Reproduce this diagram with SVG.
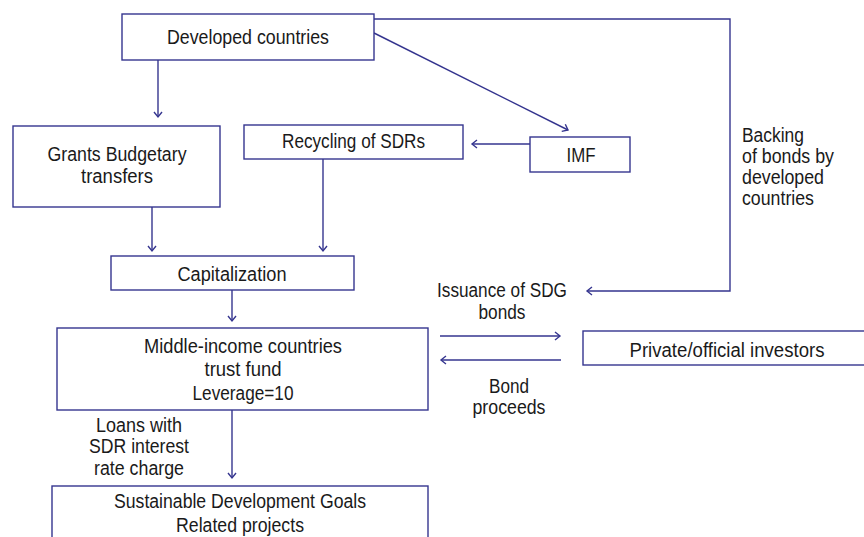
<svg xmlns="http://www.w3.org/2000/svg" width="864" height="537" viewBox="0 0 864 537">
<style>
.box{fill:#fff;stroke:#35358f;stroke-width:1.4}
.ln{fill:none;stroke:#35358f;stroke-width:1.4}
text{font-family:"Liberation Sans",Arial,sans-serif;font-size:20px;fill:#1a1a1a}
.c{text-anchor:middle}
</style>
<defs>
<marker id="ah" markerUnits="userSpaceOnUse" markerWidth="12" markerHeight="12" viewBox="-6 -6 12 12" refX="0" refY="0" orient="auto">
<path d="M-5,-4 L0,0 L-5,4" fill="none" stroke="#35358f" stroke-width="1.4"/>
</marker>
</defs>
<rect width="864" height="537" fill="#fff"/>
<g id="connectors">
<path class="ln" d="M374,19 H730 V291 H587" marker-end="url(#ah)"/>
<path class="ln" d="M374,33 L568,130" marker-end="url(#ah)"/>
<path class="ln" d="M530,144 H472" marker-end="url(#ah)"/>
<path class="ln" d="M158,60 V117" marker-end="url(#ah)"/>
<path class="ln" d="M152,207 V251" marker-end="url(#ah)"/>
<path class="ln" d="M323,159 V251" marker-end="url(#ah)"/>
<path class="ln" d="M232,290 V321" marker-end="url(#ah)"/>
<path class="ln" d="M232,410 V478" marker-end="url(#ah)"/>
<path class="ln" d="M440,336 H560" marker-end="url(#ah)"/>
<path class="ln" d="M561,360 H441" marker-end="url(#ah)"/>
<text x="139" y="432" class="c" textLength="86" lengthAdjust="spacingAndGlyphs">Loans with</text>
<text x="139" y="453" class="c" textLength="100" lengthAdjust="spacingAndGlyphs">SDR interest</text>
<text x="139" y="475" class="c" textLength="90" lengthAdjust="spacingAndGlyphs">rate charge</text>
<text x="502" y="297" class="c" textLength="130" lengthAdjust="spacingAndGlyphs">Issuance of SDG</text>
<text x="502" y="319" class="c" textLength="47" lengthAdjust="spacingAndGlyphs">bonds</text>
<text x="509" y="393" class="c" textLength="40" lengthAdjust="spacingAndGlyphs">Bond</text>
<text x="509" y="414" class="c" textLength="73" lengthAdjust="spacingAndGlyphs">proceeds</text>
<text x="742" y="142" textLength="62" lengthAdjust="spacingAndGlyphs">Backing</text>
<text x="742" y="163" textLength="92" lengthAdjust="spacingAndGlyphs">of bonds by</text>
<text x="742" y="184" textLength="82" lengthAdjust="spacingAndGlyphs">developed</text>
<text x="742" y="205" textLength="72" lengthAdjust="spacingAndGlyphs">countries</text>
</g>
<g id="developed">
<rect class="box" x="122" y="14" width="252" height="46"/>
<text x="248" y="44" class="c" textLength="162" lengthAdjust="spacingAndGlyphs">Developed countries</text>
</g>
<g id="grants">
<rect class="box" x="13" y="126" width="207" height="81"/>
<text x="117" y="161" class="c" textLength="139" lengthAdjust="spacingAndGlyphs">Grants Budgetary</text>
<text x="117" y="183" class="c" textLength="72" lengthAdjust="spacingAndGlyphs">transfers</text>
</g>
<g id="recycling">
<rect class="box" x="244" y="125" width="219" height="34"/>
<text x="353.5" y="148" class="c" textLength="143" lengthAdjust="spacingAndGlyphs">Recycling of SDRs</text>
</g>
<g id="imf">
<rect class="box" x="530" y="137" width="100" height="35"/>
<text x="581" y="162" class="c" textLength="29" lengthAdjust="spacingAndGlyphs">IMF</text>
</g>
<g id="capitalization">
<rect class="box" x="111" y="256" width="243" height="34"/>
<text x="232" y="281" class="c" textLength="109" lengthAdjust="spacingAndGlyphs">Capitalization</text>
</g>
<g id="trustfund">
<rect class="box" x="57" y="328" width="371" height="82"/>
<text x="243" y="353" class="c" textLength="198" lengthAdjust="spacingAndGlyphs">Middle-income countries</text>
<text x="243" y="376" class="c" textLength="77" lengthAdjust="spacingAndGlyphs">trust fund</text>
<text x="243" y="400" class="c" textLength="101" lengthAdjust="spacingAndGlyphs">Leverage=10</text>
</g>
<g id="sdg">
<rect class="box" x="52" y="486" width="376" height="70"/>
<text x="240" y="508" class="c" textLength="252" lengthAdjust="spacingAndGlyphs">Sustainable Development Goals</text>
<text x="240" y="532" class="c" textLength="128" lengthAdjust="spacingAndGlyphs">Related projects</text>
</g>
<g id="investors">
<rect class="box" x="583" y="331" width="290" height="34"/>
<text x="727" y="357" class="c" textLength="195" lengthAdjust="spacingAndGlyphs">Private/official investors</text>
</g>
</svg>
